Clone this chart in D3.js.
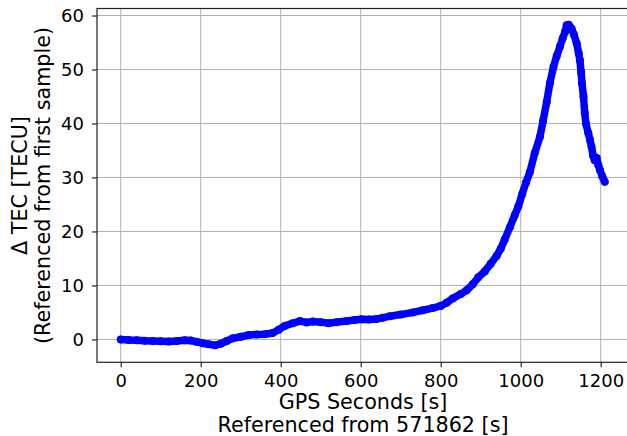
<!DOCTYPE html>
<html>
<head>
<meta charset="utf-8">
<script src="https://cdn.jsdelivr.net/npm/d3@7"></script>
<style>
body { margin: 0; background: #fff; }
text { font-family: "DejaVu Sans", sans-serif; }
</style>
</head>
<body>
<script>
var width = 627,
	height = 436;

// GPS seconds (referenced from 571862 s)
var seconds = [0, 20, 40, 60, 80, 100, 120, 140, 160, 175, 190, 205, 220, 236, 250, 265, 280, 300, 320, 340,
	360, 380, 395, 410, 430, 448, 465, 480, 500, 520, 540, 565, 585, 602, 620, 640, 655, 673, 700, 730,
	755, 780, 800, 815, 830, 850, 865, 880, 894, 910, 925, 940, 950, 960, 973, 985, 994, 1004, 1013, 1023,
	1035, 1048, 1056, 1065, 1073, 1082, 1090, 1098, 1105, 1111, 1115, 1120, 1127, 1133, 1140, 1145, 1148, 1151, 1153, 1157,
	1160, 1163, 1169, 1173, 1177, 1181, 1185, 1190, 1194, 1198, 1204, 1210];

// delta TEC (TECU) referenced from first sample
var dtec = [0, -0.1, -0.15, -0.25, -0.3, -0.35, -0.4, -0.3, -0.15, -0.2, -0.45, -0.7, -0.9, -1.1, -0.8, -0.3, 0.2, 0.5, 0.8, 0.9,
	0.95, 1.2, 1.8, 2.5, 3.0, 3.4, 3.15, 3.3, 3.2, 3.0, 3.2, 3.4, 3.6, 3.75, 3.7, 3.8, 4.0, 4.3, 4.6, 5.0,
	5.4, 5.8, 6.2, 6.8, 7.6, 8.4, 9.1, 10.2, 11.5, 12.6, 14.0, 15.5, 16.8, 18.5, 20.8, 23.0, 24.6, 27.0, 29.0, 31.0,
	34.5, 37.5, 40.5, 44.0, 47.5, 50.5, 52.5, 54.2, 55.8, 57.0, 58.2, 58.3, 57.6, 56.5, 54.8, 53.0, 51.7, 49.5, 47.5, 45.0,
	42.0, 40.0, 38.2, 37.0, 35.7, 34.0, 33.2, 33.6, 32.3, 31.4, 30.2, 29.2];

var xTicks = [0, 200, 400, 600, 800, 1000, 1200];
var yTicks = [0, 10, 20, 30, 40, 50, 60];

var data = seconds.map(function(s, i) { return {t: s, v: dtec[i]}; });

var svg = d3.select("body").append("svg").attr("width", width).attr("height", height);

var X = d3.scaleLinear().domain([-59.3, 1270.5]).range([97, 628.9]);
var Y = d3.scaleLinear().domain([-4.24, 61.3]).range([362.3, 8.5]);

// grid
svg.append("g").selectAll("line").data(xTicks).enter().append("line")
	.attr("x1", function(d) { return X(d); }).attr("x2", function(d) { return X(d); })
	.attr("y1", Y.range()[0]).attr("y2", Y.range()[1])
	.style("stroke", "#b0b0b0").style("stroke-width", 1);
svg.append("g").selectAll("line").data(yTicks).enter().append("line")
	.attr("y1", function(d) { return Y(d); }).attr("y2", function(d) { return Y(d); })
	.attr("x1", X.range()[0]).attr("x2", X.range()[1])
	.style("stroke", "#b0b0b0").style("stroke-width", 1);

// data
var line = d3.line().x(function(d) { return X(d.t); }).y(function(d) { return Y(d.v); });
svg.append("path").datum(data).attr("d", line)
	.style("fill", "none").style("stroke", "#0000ff").style("stroke-width", 7.5)
	.style("stroke-linejoin", "round").style("stroke-linecap", "round");
svg.selectAll(".dot").data(data).enter().append("circle").attr("class", "dot")
	.attr("cx", function(d) { return X(d.t); })
	.attr("cy", function(d) { return Y(d.v); })
	.attr("r", 4)
	.style("fill", "#0000ff");

// frame
svg.append("rect").attr("x", 97).attr("y", 8.5).attr("width", 628.9 - 97).attr("height", 362.3 - 8.5)
	.style("fill", "none").style("stroke", "#222").style("stroke-width", 1.2);

// axes
var xAxis = svg.append("g").attr("transform", "translate(0,362.3)")
	.call(d3.axisBottom(X).tickValues(xTicks).tickFormat(d3.format("d")).tickSize(5).tickPadding(7));
var yAxis = svg.append("g").attr("transform", "translate(97,0)")
	.call(d3.axisLeft(Y).tickValues(yTicks).tickFormat(d3.format("d")).tickSize(5).tickPadding(8));
[xAxis, yAxis].forEach(function(a) {
	a.select(".domain").remove();
	a.selectAll("line").style("stroke", "#222").style("stroke-width", 1.2);
	a.selectAll("text").style("font-family", "DejaVu Sans").style("font-size", "18px").style("fill", "#000");
});

// labels
svg.append("text").attr("x", 363).attr("y", 409).attr("text-anchor", "middle")
	.style("font-size", "20.7px").text("GPS Seconds [s]");
svg.append("text").attr("x", 363).attr("y", 432).attr("text-anchor", "middle")
	.style("font-size", "20.7px").text("Referenced from 571862 [s]");

svg.append("text").attr("transform", "translate(27,185.5) rotate(-90)").attr("text-anchor", "middle")
	.style("font-size", "20.7px").text("Δ TEC [TECU]");
svg.append("text").attr("transform", "translate(50,185.5) rotate(-90)").attr("text-anchor", "middle")
	.style("font-size", "20.7px").text("(Referenced from first sample)");
</script>
</body>
</html>
